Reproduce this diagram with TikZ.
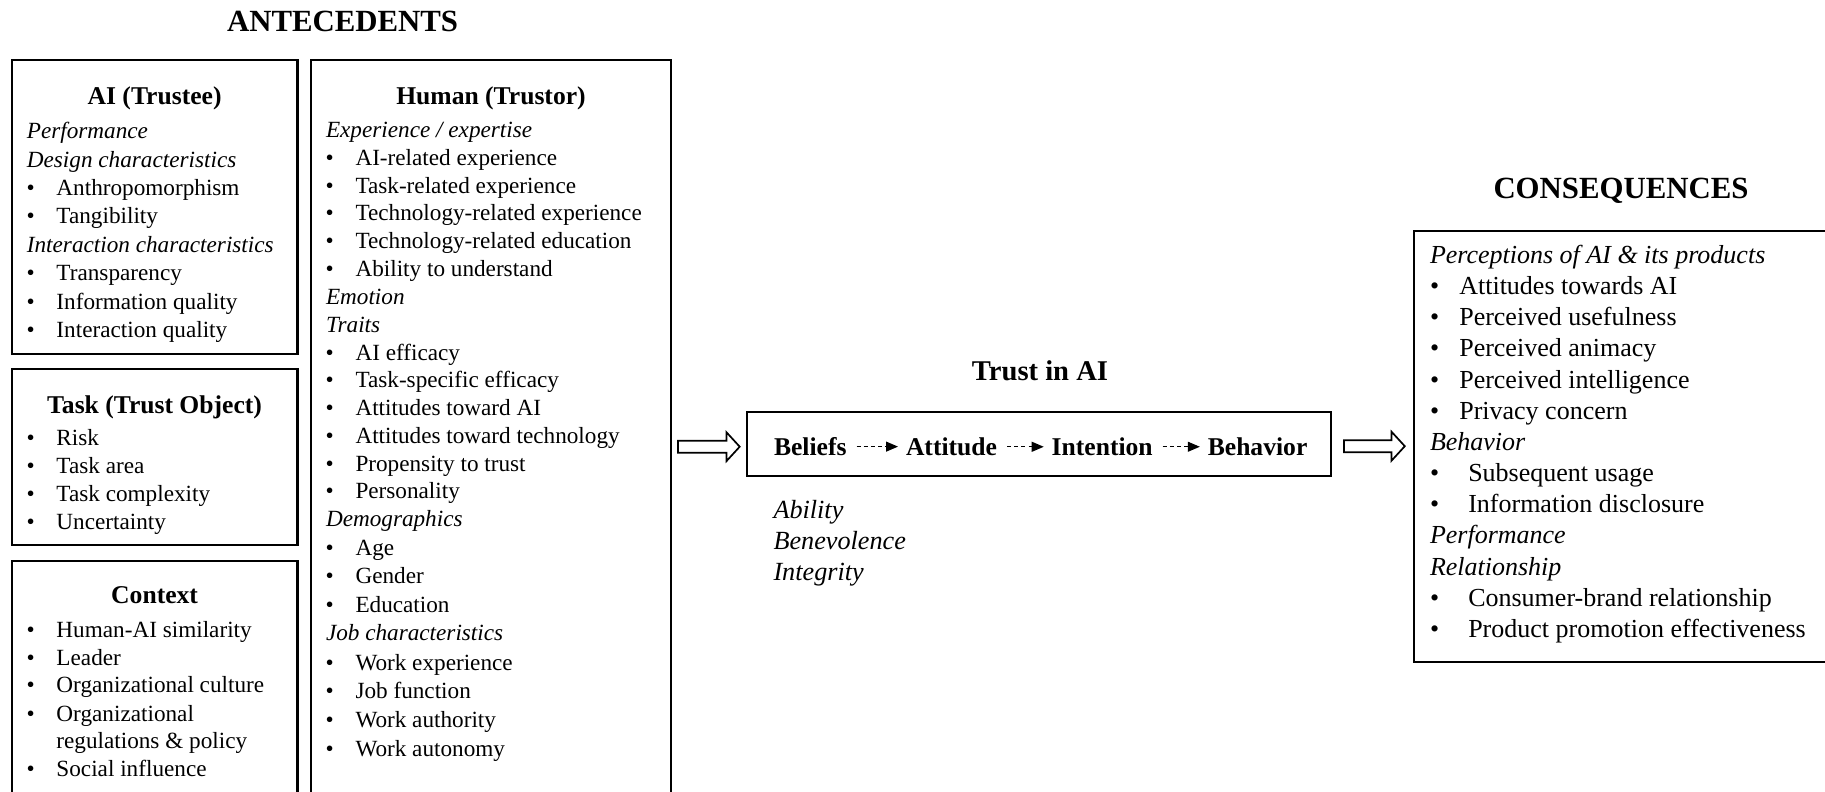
\documentclass[tikz,border=0pt]{standalone}
\usepackage{fontspec}
\setmainfont{Liberation Serif}
\usetikzlibrary{arrows.meta,calc}

\newcommand\ltf{\fontsize{11.6}{14}\selectfont}
\newcommand\ctf{\fontsize{13}{15.6}\selectfont}
\newcommand\bul[2]{\makebox[#1][l]{\textbullet}#2}

\tikzset{
  every node/.style={inner sep=0pt, outer sep=0pt},
  box/.style={draw, line width=1.15pt, anchor=north west, inner sep=0pt},
  lhd/.style={anchor=base west, font=\ltf\itshape},
  lit/.style={anchor=base west, font=\ltf},
  chd/.style={anchor=base west, font=\ctf\itshape},
  cit/.style={anchor=base west, font=\ctf},
  ttl/.style={anchor=base, font=\fontsize{12.8}{15}\selectfont\bfseries},
  big/.style={anchor=base, font=\fontsize{15.4}{18}\selectfont\bfseries},
  mid/.style={anchor=base, font=\fontsize{14.3}{17}\selectfont\bfseries},
  flow/.style={anchor=base west, font=\fontsize{12.8}{15}\selectfont\bfseries},
  dimn/.style={anchor=base west, font=\fontsize{13.1}{16}\selectfont\itshape},
  darr/.style={line width=0.55pt, dash pattern=on 2pt off 1.6pt,
    -{Triangle[length=6pt,width=5pt]}, shorten <=5pt, shorten >=4pt},
  hollow/.style={draw, line width=0.85pt, line join=miter},
}

\begin{document}
\begin{tikzpicture}[x=0.5pt,y=-0.5pt]
\useasboundingbox (0,0) rectangle (1825,792);
\clip (0,0) rectangle (1825,792);

% ---------- ANTECEDENTS ----------
\node[big] (ant) at (342.6,31.7) {ANTECEDENTS};
\node[box, minimum width=142.9pt, minimum height=147pt] (ai) at (11.7,60) {};
\node[box, minimum width=142.9pt, minimum height=88pt] (task) at (11.7,369) {};
\node[box, minimum width=142.9pt, minimum height=130pt] (ctx) at (11.7,561) {};
\node[box, minimum width=180pt, minimum height=380pt] (hum) at (311,60) {};

% AI (Trustee)
\node[ttl] (ait) at (154.6,104.5) {AI (Trustee)};
\node[lhd] (ai0) at (26.9,139) {Performance};
\node[lhd] (ai1) at (26.9,167.3) {Design characteristics};
\node[lit] (ai2) at (26.5,195.6) {\bul{15pt}{Anthropomorphism}};
\node[lit] (ai3) at (26.5,223.9) {\bul{15pt}{Tangibility}};
\node[lhd] (ai4) at (26.9,252.4) {Interaction characteristics};
\node[lit] (ai5) at (26.5,280.9) {\bul{15pt}{Transparency}};
\node[lit] (ai6) at (26.5,309.4) {\bul{15pt}{Information quality}};
\node[lit] (ai7) at (26.5,337.9) {\bul{15pt}{Interaction quality}};

% Task (Trust Object)
\node[ttl] (tat) at (154.6,413.2) {Task (Trust Object)};
\node[lit] (ta1) at (26.5,445.5) {\bul{15pt}{Risk}};
\node[lit] (ta2) at (26.5,473.6) {\bul{15pt}{Task area}};
\node[lit] (ta3) at (26.5,501.7) {\bul{15pt}{Task complexity}};
\node[lit] (ta4) at (26.5,529.6) {\bul{15pt}{Uncertainty}};

% Context
\node[ttl] (cot) at (154.6,603.8) {Context};
\node[lit] (co1) at (26.5,637.2) {\bul{15pt}{Human-AI similarity}};
\node[lit] (co2) at (26.5,665.2) {\bul{15pt}{Leader}};
\node[lit] (co3) at (26.5,692.9) {\bul{15pt}{Organizational culture}};
\node[lit] (co4) at (26.5,721) {\bul{15pt}{Organizational}};
\node[lit] (co5) at (56.4,748.5) {regulations \& policy};
\node[lit] (co6) at (26.5,776.7) {\bul{15pt}{Social influence}};

% Human (Trustor)
\node[ttl] (hut) at (491,104.5) {Human (Trustor)};
\node[lhd] (h0) at (326,137.5) {Experience / expertise};
\node[lit] (h1) at (325.5,165.5) {\bul{15pt}{AI-related experience}};
\node[lit] (h2) at (325.5,193.2) {\bul{15pt}{Task-related experience}};
\node[lit] (h3) at (325.5,220.6) {\bul{15pt}{Technology-related experience}};
\node[lit] (h4) at (325.5,248.5) {\bul{15pt}{Technology-related education}};
\node[lit] (h5) at (325.5,276.4) {\bul{15pt}{Ability to understand}};
\node[lhd] (h6) at (326,304.3) {Emotion};
\node[lhd] (h7) at (326,332) {Traits};
\node[lit] (h8) at (325.5,360.2) {\bul{15pt}{AI efficacy}};
\node[lit] (h9) at (325.5,387.9) {\bul{15pt}{Task-specific efficacy}};
\node[lit] (h10) at (325.5,415.2) {\bul{15pt}{Attitudes toward AI}};
\node[lit] (h11) at (325.5,443.4) {\bul{15pt}{Attitudes toward technology}};
\node[lit] (h12) at (325.5,471) {\bul{15pt}{Propensity to trust}};
\node[lit] (h13) at (325.5,498.4) {\bul{15pt}{Personality}};
\node[lhd] (h14) at (326,526.7) {Demographics};
\node[lit] (h15) at (325.5,555) {\bul{15pt}{Age}};
\node[lit] (h16) at (325.5,583.3) {\bul{15pt}{Gender}};
\node[lit] (h17) at (325.5,612.7) {\bul{15pt}{Education}};
\node[lhd] (h18) at (326,640.7) {Job characteristics};
\node[lit] (h19) at (325.5,670) {\bul{15pt}{Work experience}};
\node[lit] (h20) at (325.5,698.3) {\bul{15pt}{Job function}};
\node[lit] (h21) at (325.5,727.3) {\bul{15pt}{Work authority}};
\node[lit] (h22) at (325.5,756) {\bul{15pt}{Work autonomy}};

% ---------- TRUST IN AI ----------
\node[mid] (tit) at (1040,380.5) {Trust in AI};
\node[box, minimum width=292pt, minimum height=32pt] (trust) at (747,412.2) {};
\node[flow] (bel) at (774,455.5) {Beliefs};
\node[flow] (att) at (906,455.5) {Attitude};
\node[flow] (int) at (1051.7,455.5) {Intention};
\node[flow] (beh) at (1207.8,455.5) {Behavior};
\draw[darr] (bel.east) -- (bel.east -| att.west);
\draw[darr] (att.east) -- (att.east -| int.west);
\draw[darr] (int.east) -- (int.east -| beh.west);
\node[dimn] (d1) at (773.5,518.3) {Ability};
\node[dimn] (d2) at (773.5,549.3) {Benevolence};
\node[dimn] (d3) at (773.5,580.3) {Integrity};

% hollow arrows
\coordinate (la) at ($(trust.west)+(-69,2.5)$);
\coordinate (ra) at ($(trust.east)+(13,2)$);
\draw[hollow] (la) ++(0,-6) -- ++(48.4,0) -- ++(0,-8.5) -- ++(13.3,14.5) -- ++(-13.3,14.5)
  -- ++(0,-8.5) -- ++(-48.4,0) -- cycle;
\draw[hollow] (ra) ++(0,-6) -- ++(47.5,0) -- ++(0,-8.5) -- ++(13.3,14.5) -- ++(-13.3,14.5)
  -- ++(0,-8.5) -- ++(-47.5,0) -- cycle;

% ---------- CONSEQUENCES ----------
\node[big] (cont) at (1621,198.3) {CONSEQUENCES};
\node[box, minimum width=215pt, minimum height=215.5pt] (cons) at (1414,230.7) {};
\node[chd] (c0) at (1430,263.3) {Perceptions of AI \& its products};
\node[cit] (c1) at (1430,294.5) {\bul{14.65pt}{Attitudes towards AI}};
\node[cit] (c2) at (1430,325.6) {\bul{14.65pt}{Perceived usefulness}};
\node[cit] (c3) at (1430,356.8) {\bul{14.65pt}{Perceived animacy}};
\node[cit] (c4) at (1430,388.0) {\bul{14.65pt}{Perceived intelligence}};
\node[cit] (c5) at (1430,419.2) {\bul{14.65pt}{Privacy concern}};
\node[chd] (c6) at (1430,450.3) {Behavior};
\node[cit] (c7) at (1430,481.5) {\bul{19.15pt}{Subsequent usage}};
\node[cit] (c8) at (1430,512.7) {\bul{19.15pt}{Information disclosure}};
\node[chd] (c9) at (1430,543.8) {Performance};
\node[chd] (c10) at (1430,575.0) {Relationship};
\node[cit] (c11) at (1430,606.2) {\bul{19.15pt}{Consumer-brand relationship}};
\node[cit] (c12) at (1430,637.3) {\bul{19.15pt}{Product promotion effectiveness}};
\end{tikzpicture}
\end{document}
